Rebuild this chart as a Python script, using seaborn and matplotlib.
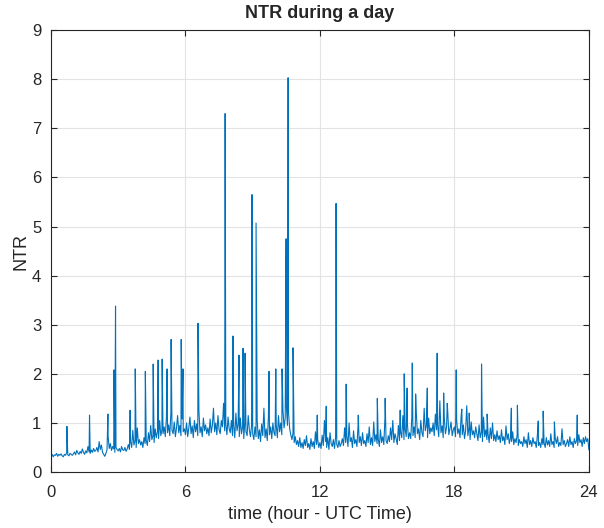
import numpy as np
import pandas as pd
import matplotlib
matplotlib.use("Agg")
import matplotlib.pyplot as plt
import seaborn as sns

# base NTR level, one value every 0.05 hour (rows = hours 0..23), plus last point at 24 h
base_ntr = [
    0.33, 0.36, 0.31, 0.35, 0.34, 0.38, 0.32, 0.36, 0.34, 0.37, 0.33, 0.31, 0.36, 0.34, 0.40, 0.35, 0.33, 0.38, 0.36, 0.34,
    0.37, 0.41, 0.35, 0.44, 0.39, 0.36, 0.42, 0.38, 0.47, 0.40, 0.36, 0.43, 0.39, 0.52, 0.41, 0.38, 0.45, 0.40, 0.48, 0.42,
    0.44, 0.50, 0.41, 0.62, 0.46, 0.55, 0.40, 0.36, 0.32, 0.38, 0.45, 0.72, 0.48, 0.58, 0.44, 0.52, 0.47, 0.40, 0.50, 0.46,
    0.43, 0.48, 0.41, 0.52, 0.45, 0.44, 0.50, 0.42, 0.47, 0.56, 0.46, 0.62, 0.50, 0.85, 0.55, 0.64, 0.50, 0.90, 0.58, 0.66,
    0.55, 0.62, 0.50, 0.70, 0.58, 0.65, 0.54, 0.80, 0.62, 0.95, 0.66, 0.74, 0.60, 0.88, 0.70, 0.82, 0.68, 1.05, 0.74, 0.86,
    0.78, 0.92, 0.72, 1.10, 0.80, 0.96, 0.74, 1.20, 0.85, 0.78, 1.02, 0.72, 0.90, 1.15, 0.80, 0.95, 0.74, 1.08, 0.82, 0.88,
    0.76, 1.00, 0.72, 0.90, 1.12, 0.78, 0.94, 0.70, 1.05, 0.82, 0.98, 0.74, 1.25, 0.80, 0.92, 0.72, 1.10, 0.84, 0.96, 0.78,
    0.90, 0.74, 1.08, 0.80, 0.95, 1.30, 0.82, 1.00, 0.76, 1.15, 0.86, 0.78, 1.05, 0.92, 1.40, 0.84, 0.98, 0.76, 1.12, 0.88,
    0.80, 1.05, 0.74, 0.96, 0.70, 1.20, 0.84, 0.98, 0.72, 1.10, 0.78, 0.92, 0.68, 1.00, 0.82, 0.74, 1.15, 0.86, 0.72, 0.95,
    0.78, 0.66, 0.92, 0.72, 1.05, 0.68, 0.86, 0.62, 0.98, 0.74, 1.30, 0.70, 0.88, 0.64, 1.10, 0.76, 0.92, 0.68, 1.00, 0.80,
    0.74, 0.96, 0.70, 1.15, 0.82, 1.00, 0.76, 1.25, 0.90, 1.10, 1.35, 0.95, 1.20, 0.88, 0.76, 0.66, 0.80, 0.60, 0.72, 0.56,
    0.64, 0.52, 0.70, 0.50, 0.60, 0.48, 0.66, 0.54, 0.74, 0.50, 0.58, 0.46, 0.68, 0.52, 0.62, 0.48, 0.82, 0.56, 0.66, 0.50,
    0.60, 0.48, 0.75, 0.54, 1.05, 0.62, 0.50, 0.70, 0.46, 0.80, 0.58, 0.52, 0.66, 0.48, 0.72, 0.56, 0.50, 0.64, 0.52, 0.58,
    0.68, 0.54, 0.90, 0.60, 0.74, 0.52, 1.00, 0.62, 0.70, 0.50, 0.84, 0.58, 0.66, 0.52, 0.95, 0.60, 0.72, 0.54, 0.80, 0.58,
    0.64, 0.52, 0.78, 0.60, 0.92, 0.56, 0.70, 0.54, 1.02, 0.62, 0.76, 0.58, 0.68, 0.52, 0.86, 0.60, 0.72, 0.56, 1.10, 0.64,
    0.58, 0.74, 0.62, 0.90, 0.66, 1.05, 0.60, 0.78, 0.68, 0.56, 0.95, 0.64, 0.82, 0.70, 1.15, 0.66, 0.88, 0.72, 1.00, 0.68,
    0.80, 0.68, 1.12, 0.74, 0.92, 0.70, 1.20, 0.78, 0.88, 0.66, 1.05, 0.80, 0.72, 1.30, 0.84, 0.96, 0.70, 1.10, 0.78, 0.90,
    0.82, 1.00, 0.74, 1.18, 0.86, 0.96, 0.72, 1.45, 0.80, 0.94, 0.70, 1.08, 0.78, 0.92, 1.25, 0.76, 0.88, 1.02, 0.74, 0.86,
    0.92, 0.72, 1.05, 0.78, 0.88, 0.70, 1.15, 0.76, 0.96, 0.68, 0.84, 1.35, 0.74, 0.90, 0.66, 1.02, 0.76, 0.84, 0.70, 0.92,
    0.78, 0.64, 0.96, 0.70, 0.82, 0.62, 1.12, 0.72, 0.86, 0.66, 0.78, 0.60, 0.90, 0.68, 1.00, 0.64, 0.76, 0.62, 0.84, 0.66,
    0.74, 0.60, 0.86, 0.64, 0.72, 0.56, 0.94, 0.66, 0.78, 0.58, 0.70, 0.62, 0.82, 0.56, 0.68, 0.60, 0.76, 0.54, 0.66, 0.58,
    0.62, 0.52, 0.72, 0.58, 0.66, 0.50, 0.80, 0.56, 0.64, 0.52, 0.70, 0.58, 0.62, 0.50, 0.74, 0.54, 0.60, 0.50, 0.68, 0.56,
    0.60, 0.50, 0.70, 0.55, 0.64, 0.52, 0.78, 0.56, 0.62, 0.50, 0.68, 0.58, 0.72, 0.52, 0.60, 0.54, 0.88, 0.56, 0.64, 0.52,
    0.58, 0.66, 0.52, 0.72, 0.56, 0.62, 0.50, 0.68, 0.58, 0.64, 0.54, 0.76, 0.60, 0.66, 0.52, 0.70, 0.58, 0.72, 0.62, 0.68,
    0.45,
]
base_hours = [round(i * 0.05, 2) for i in range(len(base_ntr))]

# short peaks
peak_hours = [0.71, 1.72, 2.54, 2.81, 2.88, 3.53, 3.76, 4.21, 4.56, 4.78,
              4.96, 5.18, 5.36, 5.81, 5.89, 6.56, 7.77, 8.12, 8.39, 8.57,
              8.66, 8.97, 9.15, 9.73, 10.03, 10.31, 10.49, 10.58, 10.80, 11.88,
              12.28, 12.72, 13.17, 13.71, 14.56, 14.91, 15.58, 15.76, 15.89, 16.12,
              16.27, 16.79, 17.23, 17.52, 17.68, 18.08, 18.33, 18.66, 19.21, 19.46,
              20.54, 20.81, 21.74, 21.96, 22.46, 23.48]
peak_ntr = [0.93, 1.16, 1.18, 2.08, 3.38, 1.26, 2.10, 2.05, 2.20, 2.28,
            2.30, 2.10, 2.70, 2.70, 2.10, 3.03, 7.30, 2.77, 2.38, 2.52,
            2.42, 5.65, 5.07, 2.05, 2.10, 2.10, 4.75, 8.03, 2.53, 1.16,
            1.34, 5.47, 1.79, 1.16, 1.50, 1.50, 1.26, 2.00, 1.71, 2.22,
            1.59, 1.71, 2.42, 1.61, 1.40, 2.08, 1.28, 1.20, 2.20, 1.18,
            1.30, 1.36, 1.04, 1.24, 1.02, 1.16]

df = pd.DataFrame({"hour": base_hours + peak_hours, "ntr": base_ntr + peak_ntr})
df = df.sort_values("hour", kind="mergesort").reset_index(drop=True)

sns.set_style("whitegrid")
plt.rcParams["font.family"] = ["Liberation Sans", "DejaVu Sans"]

fig = plt.figure(figsize=(6.04, 5.28), dpi=100)
ax = fig.add_axes([0.0844, 0.106, 0.8906, 0.837])
sns.lineplot(data=df, x="hour", y="ntr", estimator=None, sort=False,
             color="#0072BD", linewidth=0.8, ax=ax)

ax.set_xlim(0, 24)
ax.set_ylim(0, 9)
ax.set_xticks([0, 6, 12, 18, 24])
ax.set_yticks(range(10))
ax.grid(True, color="#e3e3e3", linewidth=0.8)
for s in ax.spines.values():
    s.set_visible(True)
    s.set_color("#262626")
    s.set_linewidth(0.8)
ax.tick_params(direction="in", length=4, width=0.8, color="#262626",
               labelsize=12, labelcolor="#262626", top=True, right=True,
               bottom=True, left=True)
ax.tick_params(axis="x", pad=9)
ax.tick_params(axis="y", pad=7)
ax.set_xlabel("time (hour - UTC Time)", fontsize=13, color="#262626", labelpad=5)
ax.set_ylabel("NTR", fontsize=13, color="#262626", labelpad=2)
ax.set_title("NTR during a day", fontsize=13, fontweight="bold", pad=9)

fig.savefig("out.png", dpi=100)
